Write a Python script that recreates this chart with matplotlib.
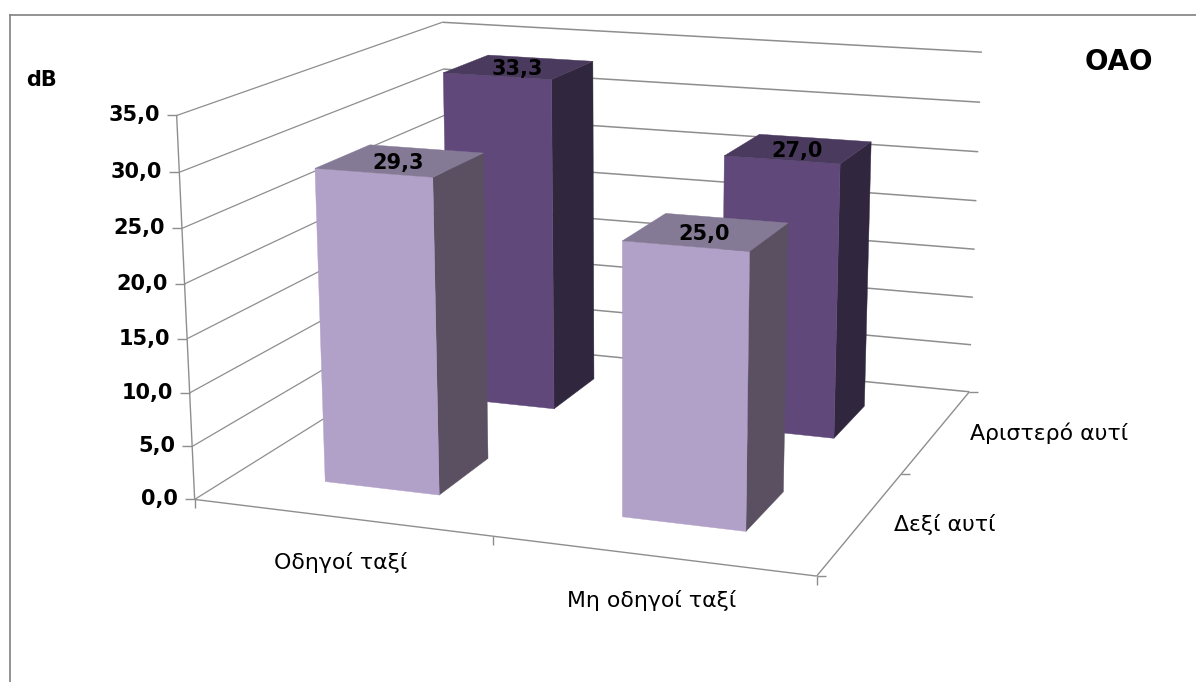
import numpy as np
import matplotlib
matplotlib.use('Agg')
import matplotlib.pyplot as plt

categories = ['Οδηγοί ταξί', 'Μη οδηγοί ταξί']
ears = ['Δεξί αυτί', 'Αριστερό αυτί']
right_ear = [29.3, 25.0]
left_ear = [33.3, 27.0]
value_ticks = [0, 5, 10, 15, 20, 25, 30, 35]

# box corners (x, depth, value) and where they land on the canvas
box_corners = [(0, 0, 0), (1, 0, 0), (1, 1, 0), (0, 1, 0), (0, 0, 35), (0, 1, 35), (1, 1, 35)]
canvas_corners = [(194, 499), (817, 576), (969, 392), (449, 341), (177, 116), (442, 22), (982, 52)]

BAR_W = 0.393
BAR_D = 0.40

LIGHT = {'front': '#B1A0C7', 'top': '#857A96', 'side': '#5A5062'}
DARK = {'front': '#60497A', 'top': '#4A3A5E', 'side': '#30273F'}
LINE = '#8E8E8E'


def fit_camera(world, canvas):
    rows = []
    for (x, y, z), (u, v) in zip(world, canvas):
        rows.append([x, y, z, 1, 0, 0, 0, 0, -u * x, -u * y, -u * z, -u])
        rows.append([0, 0, 0, 0, x, y, z, 1, -v * x, -v * y, -v * z, -v])
    _, _, vt = np.linalg.svd(np.array(rows, dtype=float))
    return vt[-1].reshape(3, 4)


camera = fit_camera(box_corners, canvas_corners)


def project(x, y, z):
    u, v, w = camera @ np.array([x, y, z, 1.0])
    return u / w, v / w


def draw_line(ax, p0, p1, lw=1.0):
    ax.plot([p0[0], p1[0]], [p0[1], p1[1]], color=LINE, lw=lw, solid_capstyle='butt', zorder=1)


def draw_bar(ax, cat, series, value, colors):
    x0 = (cat + 0.5 - BAR_W / 2) / 2
    x1 = (cat + 0.5 + BAR_W / 2) / 2
    y0 = (series + 0.5 - BAR_D / 2) / 2
    y1 = (series + 0.5 + BAR_D / 2) / 2

    faces = {
        'side': [(x1, y0, 0), (x1, y1, 0), (x1, y1, value), (x1, y0, value)],
        'front': [(x0, y0, 0), (x1, y0, 0), (x1, y0, value), (x0, y0, value)],
        'top': [(x0, y0, value), (x1, y0, value), (x1, y1, value), (x0, y1, value)],
    }
    for name, corners in faces.items():
        pts = [project(*c) for c in corners]
        ax.fill([p[0] for p in pts], [p[1] for p in pts], color=colors[name], lw=0.3, zorder=2)

    lx, ly = project((x0 + x1) / 2, (y0 + y1) / 2, value)
    ax.text(lx - 2, ly + 2, f'{value:.1f}'.replace('.', ','), ha='center', va='center',
            fontsize=15, fontweight='bold', color='black', zorder=3)


fig = plt.figure(figsize=(11.96, 6.82), dpi=100)
ax = fig.add_axes([0, 0, 1, 1])
ax.set_xlim(0, 1196)
ax.set_ylim(682, 0)
ax.axis('off')

# chart frame, only top and left fall inside the canvas
ax.plot([10, 1196], [15, 15], color='#808080', lw=1.2)
ax.plot([10, 10], [15, 682], color='#808080', lw=1.2)

# walls and value axis
for v in value_ticks:
    front = project(0, 0, v)
    back = project(0, 1, v)
    right = project(1, 1, v)
    draw_line(ax, front, back, lw=0.9)
    draw_line(ax, back, right, lw=1.1)
    draw_line(ax, (front[0] - 10, front[1]), front)
    ax.text(front[0] - 17, front[1], f'{v:.1f}'.replace('.', ','), ha='right', va='center',
            fontsize=15, fontweight='bold', color='black')
draw_line(ax, project(0, 0, 35), project(0, 0, 0))

# floor edges with tick marks
origin = project(0, 0, 0)
front_right = project(1, 0, 0)
back_right = project(1, 1, 0)
draw_line(ax, origin, front_right)
draw_line(ax, front_right, back_right)
draw_line(ax, (origin[0], origin[1]), (origin[0], origin[1] + 9))
for c in [0.5, 1.0]:
    p = project(c, 0, 0)
    draw_line(ax, p, (p[0], p[1] + 9))
for d in [0.0, 0.5, 1.0]:
    p = project(1, d, 0)
    draw_line(ax, p, (p[0] + 9, p[1]))

# back row first so the front row covers it
for cat, value in enumerate(left_ear):
    draw_bar(ax, cat, 1, value, DARK)
for cat, value in enumerate(right_ear):
    draw_bar(ax, cat, 0, value, LIGHT)

for cat, name in enumerate(categories):
    px, py = project((cat + 0.5) / 2, 0, 0)
    ax.text(px, py + 45, name, ha='center', va='center', fontsize=15.8, color='black')
for s, name in enumerate(ears):
    px, py = project(1, (s + 0.5) / 2, 0)
    ax.text(px + 33, py + 2.5, name, ha='left', va='center', fontsize=15.8, color='black')

ax.text(26, 80, 'dB', ha='left', va='center', fontsize=15, fontweight='bold', color='black')
ax.text(1119, 62, 'ΟΑΟ', ha='center', va='center', fontsize=20, fontweight='bold', color='black')

fig.savefig('out.png', dpi=100, facecolor='white')
